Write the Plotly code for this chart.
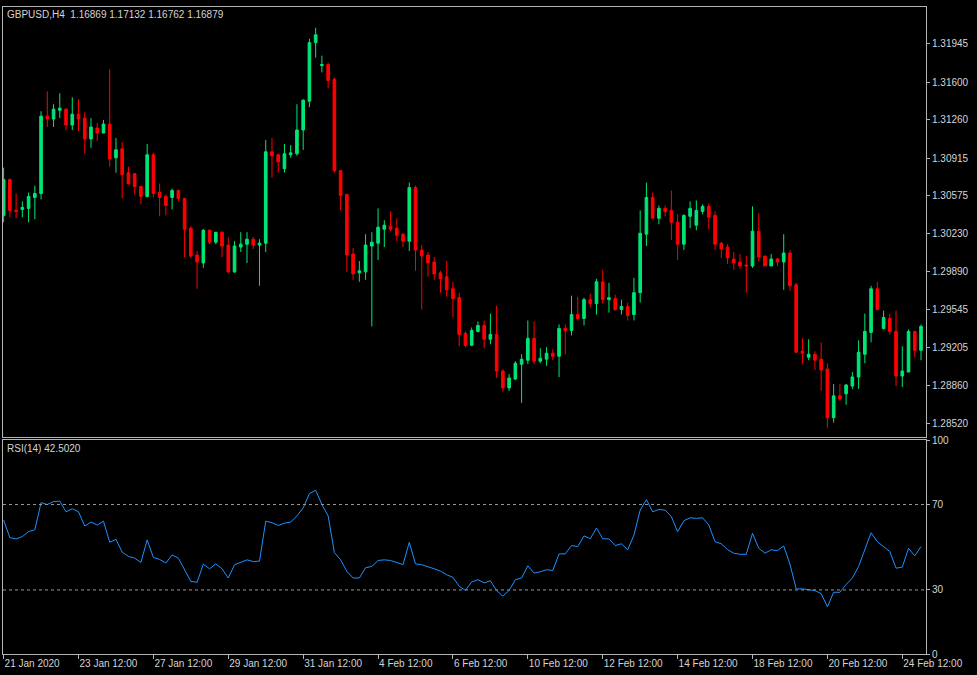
import plotly.graph_objects as go
from plotly.subplots import make_subplots

# GBPUSD H4 bars, 21 Jan 2020 12:00 .. 25 Feb 2020 00:00 (148 bars)
open_ = [1.30397, 1.30720, 1.30442, 1.30451, 1.30460, 1.30559, 1.30595, 1.31293, 1.31267, 1.31347,
         1.31356, 1.31213, 1.31311, 1.31276, 1.31087, 1.31186, 1.31141, 1.31222, 1.30917, 1.30998,
         1.30783, 1.30774, 1.30657, 1.30568, 1.30944, 1.30604, 1.30568, 1.30559, 1.30621, 1.30550,
         1.30281, 1.30039, 1.29967, 1.30263, 1.30155, 1.30245, 1.30129, 1.29887, 1.30111, 1.30137,
         1.30182, 1.30129, 1.30146, 1.30971, 1.30944, 1.30819, 1.30944, 1.30953, 1.31168, 1.31428,
         1.31957, 1.31750, 1.31759, 1.31625, 1.30801, 1.30586, 1.30048, 1.29878, 1.29887, 1.30120,
         1.30146, 1.30272, 1.30299, 1.30281, 1.30227, 1.30164, 1.30648, 1.30084, 1.30039, 1.29976,
         1.29878, 1.29842, 1.29734, 1.29654, 1.29331, 1.29224, 1.29349, 1.29403, 1.29278, 1.29322,
         1.28991, 1.28839, 1.28919, 1.29053, 1.29089, 1.29287, 1.29080, 1.29098, 1.29152, 1.29125,
         1.29376, 1.29358, 1.29501, 1.29466, 1.29636, 1.29600, 1.29797, 1.29636, 1.29645, 1.29546,
         1.29573, 1.29501, 1.29699, 1.30227, 1.30559, 1.30371, 1.30460, 1.30442, 1.30335, 1.30137,
         1.30389, 1.30308, 1.30433, 1.30478, 1.30397, 1.30146, 1.30111, 1.30003, 1.29976, 1.29949,
         1.29940, 1.30254, 1.30030, 1.29940, 1.30003, 1.29976, 1.30057, 1.29770, 1.29170, 1.29116,
         1.29143, 1.29098, 1.29009, 1.28570, 1.28767, 1.28785, 1.28856, 1.28937, 1.29143, 1.29340,
         1.29734, 1.29376, 1.29466, 1.29349, 1.28946, 1.28982, 1.29349, 1.29179]

high = [1.30828, 1.30729, 1.30595, 1.30523, 1.30604, 1.30666, 1.31338, 1.31517, 1.31401, 1.31500,
        1.31365, 1.31464, 1.31446, 1.31329, 1.31276, 1.31231, 1.31258, 1.31715, 1.31096, 1.31060,
        1.30837, 1.30774, 1.30657, 1.31042, 1.30962, 1.30684, 1.30586, 1.30639, 1.30630, 1.30550,
        1.30299, 1.30075, 1.30272, 1.30272, 1.30245, 1.30254, 1.30200, 1.30164, 1.30245, 1.30245,
        1.30200, 1.30182, 1.31078, 1.31096, 1.30953, 1.31042, 1.31033, 1.31401, 1.31446, 1.31992,
        1.32091, 1.31840, 1.31777, 1.31643, 1.30801, 1.30586, 1.30102, 1.29985, 1.30227, 1.30245,
        1.30460, 1.30353, 1.30433, 1.30371, 1.30236, 1.30693, 1.30666, 1.30129, 1.30066, 1.30021,
        1.29896, 1.29985, 1.29797, 1.29699, 1.29349, 1.29385, 1.29439, 1.29448, 1.29510, 1.29582,
        1.29009, 1.28964, 1.29080, 1.29143, 1.29448, 1.29439, 1.29197, 1.29206, 1.29188, 1.29412,
        1.29412, 1.29672, 1.29663, 1.29654, 1.29690, 1.29824, 1.29905, 1.29788, 1.29681, 1.29636,
        1.29609, 1.29833, 1.30442, 1.30693, 1.30604, 1.30487, 1.30487, 1.30621, 1.30406, 1.30406,
        1.30523, 1.30532, 1.30496, 1.30505, 1.30433, 1.30155, 1.30137, 1.30066, 1.30048, 1.30030,
        1.30478, 1.30415, 1.30030, 1.30048, 1.30012, 1.30227, 1.30084, 1.29788, 1.29287, 1.29278,
        1.29170, 1.29251, 1.29062, 1.28874, 1.28874, 1.28874, 1.28982, 1.29269, 1.29510, 1.29761,
        1.29797, 1.29537, 1.29510, 1.29537, 1.29215, 1.29367, 1.29349, 1.29412]

low = [1.30335, 1.30380, 1.30371, 1.30380, 1.30335, 1.30362, 1.30541, 1.31195, 1.31195, 1.31276,
       1.31168, 1.31168, 1.31159, 1.30953, 1.31007, 1.31069, 1.31141, 1.30837, 1.30783, 1.30550,
       1.30675, 1.30586, 1.30496, 1.30559, 1.30559, 1.30389, 1.30397, 1.30451, 1.30523, 1.30021,
       1.30012, 1.29734, 1.29923, 1.30137, 1.30137, 1.30021, 1.29878, 1.29878, 1.30066, 1.29967,
       1.30093, 1.29761, 1.30066, 1.30738, 1.30783, 1.30783, 1.30917, 1.30935, 1.30989, 1.31374,
       1.31822, 1.31688, 1.31544, 1.30783, 1.30442, 1.29887, 1.29815, 1.29797, 1.29815, 1.29394,
       1.29994, 1.30111, 1.30254, 1.30164, 1.30111, 1.30075, 1.29896, 1.29546, 1.29842, 1.29815,
       1.29699, 1.29663, 1.29475, 1.29215, 1.29206, 1.29215, 1.29340, 1.29197, 1.29233, 1.28928,
       1.28803, 1.28812, 1.28910, 1.28704, 1.29053, 1.29053, 1.29062, 1.29036, 1.29089, 1.28937,
       1.29143, 1.29313, 1.29448, 1.29403, 1.29564, 1.29501, 1.29600, 1.29519, 1.29537, 1.29501,
       1.29448, 1.29448, 1.29609, 1.30120, 1.30371, 1.30317, 1.30389, 1.30173, 1.29994, 1.30084,
       1.30281, 1.30263, 1.30406, 1.30272, 1.30084, 1.30012, 1.29958, 1.29905, 1.29914, 1.29699,
       1.29923, 1.29985, 1.29940, 1.29940, 1.29940, 1.29725, 1.29716, 1.29152, 1.29053, 1.29089,
       1.29000, 1.28812, 1.28480, 1.28525, 1.28722, 1.28686, 1.28830, 1.28830, 1.29062, 1.29251,
       1.29546, 1.29367, 1.29322, 1.28856, 1.28847, 1.28982, 1.29116, 1.29089]

close = [1.30720, 1.30442, 1.30433, 1.30469, 1.30568, 1.30595, 1.31293, 1.31267, 1.31356, 1.31365,
         1.31213, 1.31311, 1.31267, 1.31087, 1.31195, 1.31141, 1.31222, 1.30908, 1.30989, 1.30765,
         1.30684, 1.30657, 1.30568, 1.30944, 1.30595, 1.30559, 1.30487, 1.30621, 1.30550, 1.30272,
         1.30030, 1.29976, 1.30263, 1.30155, 1.30245, 1.30120, 1.29887, 1.30120, 1.30137, 1.30182,
         1.30129, 1.30146, 1.30971, 1.30935, 1.30881, 1.30953, 1.30962, 1.31168, 1.31437, 1.31957,
         1.32028, 1.31759, 1.31616, 1.30801, 1.30577, 1.30039, 1.29869, 1.29896, 1.30129, 1.30155,
         1.30290, 1.30308, 1.30272, 1.30218, 1.30164, 1.30648, 1.30084, 1.30030, 1.29967, 1.29869,
         1.29824, 1.29725, 1.29645, 1.29322, 1.29224, 1.29358, 1.29403, 1.29278, 1.29322, 1.28991,
         1.28839, 1.28928, 1.29062, 1.29098, 1.29287, 1.29080, 1.29107, 1.29152, 1.29125, 1.29376,
         1.29358, 1.29501, 1.29466, 1.29636, 1.29600, 1.29797, 1.29636, 1.29654, 1.29546, 1.29573,
         1.29493, 1.29699, 1.30236, 1.30559, 1.30371, 1.30460, 1.30433, 1.30335, 1.30137, 1.30397,
         1.30460, 1.30442, 1.30478, 1.30380, 1.30137, 1.30093, 1.30012, 1.29967, 1.29940, 1.29940,
         1.30254, 1.30021, 1.29940, 1.30003, 1.29976, 1.30057, 1.29761, 1.29161, 1.29152, 1.29143,
         1.29089, 1.29000, 1.28570, 1.28767, 1.28740, 1.28865, 1.28937, 1.29161, 1.29349, 1.29734,
         1.29546, 1.29475, 1.29349, 1.28946, 1.28991, 1.29349, 1.29179, 1.29394]

# RSI(14) as drawn in the lower window
rsi = [62.7, 54.5, 53.9, 55.0, 57.3, 58.2, 70.9, 70.0, 71.4, 71.6,
       66.6, 68.0, 66.6, 59.9, 61.8, 60.4, 62.2, 52.3, 53.7, 47.7,
       45.7, 44.9, 42.9, 53.4, 45.2, 44.3, 42.6, 46.4, 44.9, 39.5,
       34.0, 33.6, 42.1, 39.9, 42.2, 39.9, 35.6, 41.8, 42.9, 44.1,
       43.3, 43.5, 62.2, 61.5, 60.2, 61.3, 61.8, 64.7, 68.4, 75.1,
       76.7, 70.0, 64.7, 47.5, 44.1, 38.7, 35.6, 35.6, 40.4, 41.0,
       43.8, 44.1, 43.8, 42.9, 41.9, 52.3, 42.2, 41.8, 41.0, 39.9,
       38.8, 37.1, 35.9, 31.7, 29.8, 33.7, 34.8, 33.3, 34.3, 29.7,
       27.1, 29.8, 34.8, 35.6, 41.3, 37.9, 38.5, 39.5, 39.1, 46.9,
       46.9, 50.8, 50.3, 55.3, 54.0, 59.0, 54.0, 53.9, 50.8, 51.6,
       48.8, 55.7, 67.4, 72.3, 66.6, 67.7, 67.4, 64.3, 57.3, 62.4,
       63.8, 63.5, 63.8, 60.4, 52.6, 51.6, 48.9, 47.2, 46.7, 46.7,
       56.5, 49.5, 47.2, 48.8, 48.4, 50.6, 42.1, 30.5, 30.5, 30.2,
       29.7, 28.3, 22.1, 28.9, 28.9, 32.5, 35.6, 41.0, 48.8, 56.8,
       52.6, 50.3, 48.0, 40.2, 40.7, 49.5, 46.0, 50.3]

time_labels = ["21 Jan 2020", "23 Jan 12:00", "27 Jan 12:00", "29 Jan 12:00", "31 Jan 12:00",
               "4 Feb 12:00", "6 Feb 12:00", "10 Feb 12:00", "12 Feb 12:00", "14 Feb 12:00",
               "18 Feb 12:00", "20 Feb 12:00", "24 Feb 12:00"]
price_ticks = [1.31945, 1.31600, 1.31260, 1.30915, 1.30575, 1.30230,
               1.29890, 1.29545, 1.29205, 1.28860, 1.28520]
rsi_ticks = [100, 70, 30, 0]

bars = list(range(len(close)))
label_bars = bars[::12][:len(time_labels)]

BULL = '#00e676'
BEAR = '#ff0000'
FG = '#d4d4d4'
FRAME = '#b4b4b4'
FONT = 'Liberation Sans'

fig = make_subplots(
    rows=2, cols=1,
    shared_xaxes=True,
    row_heights=[0.668, 0.332],
    vertical_spacing=0.006,
)

fig.add_trace(go.Candlestick(
    x=bars, open=open_, high=high, low=low, close=close,
    increasing=dict(line=dict(color=BULL, width=1), fillcolor=BULL),
    decreasing=dict(line=dict(color=BEAR, width=1), fillcolor=BEAR),
    hoverinfo='skip',
), row=1, col=1)

fig.add_trace(go.Scatter(
    x=bars, y=rsi, mode='lines',
    line=dict(color='#1e90ff', width=1),
    hoverinfo='skip',
), row=2, col=1)

for level in (70, 30):
    fig.add_hline(y=level, line=dict(color='#9a9a9a', width=1, dash='dot'), row=2, col=1)

axis_common = dict(showgrid=False, zeroline=False, showline=True, mirror=True,
                   linecolor=FRAME, linewidth=1)

fig.update_xaxes(range=[-0.1, 147.8], **axis_common)
fig.update_xaxes(showticklabels=False, ticks='', row=1, col=1)
fig.update_xaxes(
    tickvals=label_bars, ticktext=time_labels,
    ticks='outside', ticklen=4, tickcolor=FRAME,
    ticklabelposition='outside right',
    tickfont=dict(family=FONT, size=10, color=FG),
    row=2, col=1,
)

fig.update_yaxes(
    side='right', range=[1.28399, 1.32279],
    tickvals=price_ticks, ticktext=[f'{v:.5f}' for v in price_ticks],
    ticks='outside', ticklen=3, tickcolor=FRAME,
    tickfont=dict(family=FONT, size=10, color=FG),
    row=1, col=1, **axis_common,
)
fig.update_yaxes(
    side='right', range=[0, 100],
    tickvals=rsi_ticks, ticktext=[str(v) for v in rsi_ticks],
    ticks='outside', ticklen=3, tickcolor=FRAME,
    tickfont=dict(family=FONT, size=10, color=FG),
    row=2, col=1, **axis_common,
)

fig.add_annotation(text='GBPUSD,H4  1.16869 1.17132 1.16762 1.16879',
                   xref='paper', yref='paper', x=0.002, y=0.989,
                   xanchor='left', yanchor='middle', showarrow=False,
                   font=dict(family=FONT, size=10, color=FG))
fig.add_annotation(text='RSI(14) 42.5020',
                   xref='paper', yref='paper', x=0.002, y=0.3175,
                   xanchor='left', yanchor='middle', showarrow=False,
                   font=dict(family=FONT, size=10, color=FG))

fig.update_layout(
    width=977, height=675,
    paper_bgcolor='black', plot_bgcolor='black',
    margin=dict(l=2, r=51, t=2, b=21),
    showlegend=False,
    boxgap=0.4,
    hovermode=False,
    xaxis_rangeslider_visible=False,
)

# the page's default 8px body margin would push the chart off the window
fig.write_html("out.html", config={'displayModeBar': False},
               post_script="document.body.style.margin='0';document.body.style.background='black';")
